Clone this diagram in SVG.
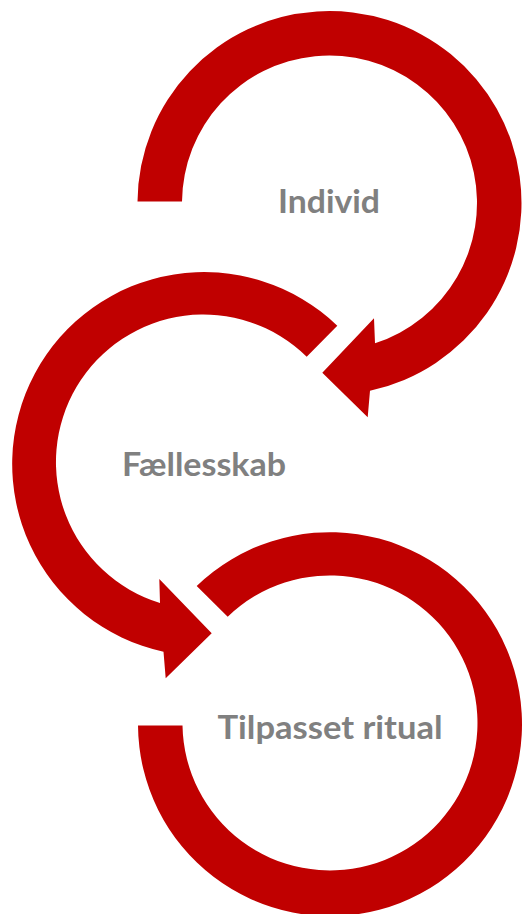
<svg xmlns="http://www.w3.org/2000/svg" width="523" height="914" viewBox="0 0 523 914">
<style>
.arrow{fill:#C00000;stroke:none}
.label{font-family:Lato,"Open Sans","Liberation Sans",sans-serif;font-weight:bold;font-size:33px;fill:#808080;text-anchor:middle}
</style>
<rect width="523" height="914" fill="#FFFFFF"/>
<g id="connectors">
<path id="arrow-individ" class="arrow" d="M 137.5 201.5 A 192 192 0 1 1 370 390.7 L 367.7 417.3 L 322.3 372.7 L 374 318.3 L 375 343.3 A 147.5 147.5 0 1 0 182 201.5 Z"/>
<path id="arrow-faellesskab" class="arrow" d="M 337.3 325.7 A 192 192 0 1 0 163.5 651.7 L 165.7 678.3 L 211.7 633.3 L 159.3 579 L 160 603 A 147.5 147.5 0 1 1 306.7 356.7 Z"/>
<path id="arrow-ritual" class="arrow" d="M 138 725.5 A 192 192 0 1 0 196.7 586 L 227.7 616.7 A 147.5 147.5 0 1 1 182.5 725.5 Z"/>
</g>
<g id="node-individ"><text class="label" x="329" y="213" textLength="102" lengthAdjust="spacingAndGlyphs">Individ</text></g>
<g id="node-faellesskab"><text class="label" x="204" y="475.5" textLength="164" lengthAdjust="spacingAndGlyphs">Fællesskab</text></g>
<g id="node-ritual"><text class="label" x="330" y="739" textLength="225" lengthAdjust="spacingAndGlyphs">Tilpasset ritual</text></g>
</svg>
